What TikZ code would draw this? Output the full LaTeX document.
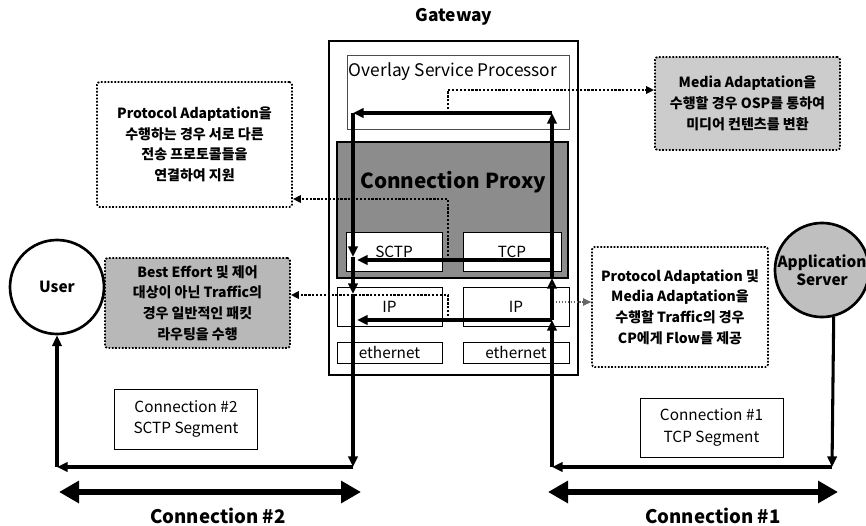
\documentclass[tikz,border=0pt]{standalone}
\usepackage{fontspec}
\setmainfont{Noto Sans CJK KR}
\usetikzlibrary{arrows.meta}

\begin{document}
\begin{tikzpicture}[x=0.75pt,y=-0.75pt,
  flow/.style={line width=2.3pt,-{Triangle[length=8pt,width=7pt]}},
  conn/.style={line width=4pt,{Triangle[length=15pt,width=16pt]}-{Triangle[length=15pt,width=16pt]}},
  note/.style={line width=1.7pt,dash pattern=on 1.7pt off 1.2pt,-{Triangle[length=6pt,width=5.5pt]}},
  notebox/.style={draw,line width=1.3pt,dash pattern=on 1.3pt off 1.2pt,rounded corners=2pt,align=center,inner sep=0pt,font=\fontsize{10.5}{15.5}\selectfont\bfseries},
  layer/.style={draw,fill=white,line width=0.6pt,inner sep=0pt,font=\fontsize{11.5}{12}\selectfont},
  seg/.style={draw,line width=0.6pt,inner sep=0pt,align=center,font=\fontsize{11.5}{16}\selectfont},
  host/.style={circle,draw,line width=2pt,inner sep=0pt,align=center,font=\fontsize{11.5}{13.5}\selectfont\bfseries}]

\def\px{0.75pt}% один пиксель исходника
\def\xl{353}% левая вертикаль
\def\xr{552}% правая вертикаль
\def\yb{467}% нижняя линия

\useasboundingbox (0,0) rectangle (866,525);

% шлюз
\node[font=\fontsize{13}{14}\selectfont\bfseries] (gwtitle) at (454,17) {Gateway};
\node[draw,line width=2.2pt,minimum width=249*\px,minimum height=334*\px] (gw) at (453.5,208) {};
\node[draw=black!70,line width=0.6pt,minimum width=222*\px,minimum height=74*\px] (osp) at (458,92) {};
\node[font=\fontsize{13}{14}\selectfont] (osptitle) at (453,72) {Overlay Service Processor};
\node[draw,fill=black!45,line width=2pt,minimum width=231*\px,minimum height=136*\px] (cp) at (452.5,210) {};
\node[font=\fontsize{15.5}{17}\selectfont\bfseries] (cptitle) at (453,182) {Connection Proxy};

\node[layer,minimum width=96*\px,minimum height=39*\px] (sctp) at (394,251.5) {SCTP};
\node[layer,minimum width=98*\px,minimum height=39*\px] (tcp) at (512,251.5) {TCP};
\node[layer,minimum width=105*\px,minimum height=39*\px] (ipl) at (389.5,306.5) {IP};% уровень IP
\node[layer,minimum width=106*\px,minimum height=39*\px] (ipr) at (516,306.5) {IP};
\node[layer,minimum width=105*\px,minimum height=21*\px] (ethl) at (389.5,352.5) {ethernet};
\node[layer,minimum width=106*\px,minimum height=21*\px] (ethr) at (516,352.5) {ethernet};

% узлы по краям
\node[host,minimum size=94*\px] (user) at (57,287) {User};
\node[host,fill=black!25,minimum size=85*\px] (app) at (822,270) {Application\\Server};

% пояснения
\node[notebox,minimum width=195*\px,minimum height=125*\px] (pa) at (194.5,144.5) {Protocol Adaptation을\\수행하는 경우 서로 다른\\전송 프로토콜들을\\연결하여 지원};
\node[notebox,fill=black!20,minimum width=185*\px,minimum height=93*\px] (ma) at (747.5,103.5) {Media Adaptation을\\수행할 경우 OSP를 통하여\\미디어 컨텐츠를 변환};
\node[notebox,fill=black!28,minimum width=185*\px,minimum height=90*\px] (be) at (197.5,303) {Best Effort 및 제어\\대상이 아닌 Traffic의\\경우 일반적인 패킷\\라우팅을 수행};
\node[notebox,minimum width=176*\px,minimum height=120*\px] (pm) at (680,307) {Protocol Adaptation 및\\Media Adaptation을\\수행할 Traffic의 경우\\CP에게 Flow를 제공};

\node[seg,minimum width=143*\px,minimum height=60*\px] (seg2) at (186,419) {Connection \#2\\SCTP Segment};
\node[seg,minimum width=143*\px,minimum height=59*\px] (seg1) at (711.5,427.5) {Connection \#1\\TCP Segment};

% точки изломов
\coordinate (ospR) at (\xr,113);
\coordinate (ospL) at (\xl,113);
\coordinate (cpB) at (\xr,278);
\coordinate (tcpR) at (\xr,260);
\coordinate (sctpL) at (\xl+4,260);
\coordinate (sctpD) at (\xl,257);
\coordinate (ipR) at (\xr,320);
\coordinate (ipL) at (\xl+4,320);
\coordinate (ipD) at (\xl,294);
\coordinate (gwBL) at (\xl,\yb);
\coordinate (gwBR) at (\xr,\yb);
\coordinate (userB) at (57,\yb);
\coordinate (appB) at (832,\yb);

% потоки
\draw[flow] (gwBR) -- (ipR);
\draw[flow,-{Triangle[length=8pt,width=7pt,fill=black!60]}] (ipR) -- (cpB);
\draw[flow] (cpB) -- (ospR);
\draw[flow] (ospR) -- (ospL);
\draw[flow] (tcpR) -- (sctpL);
\draw[flow] (ipR) -- (ipL);
\draw[flow] (ospL) -- (sctpD);
\draw[flow] (sctpD) -- (ipD);
\draw[flow] (ipD) -- (gwBL);
\draw[flow] (gwBL) -- (userB);
\draw[flow] (userB) -- (user);
\draw[flow] (app.-76) -- (appB);
\draw[flow] (appB) -- (gwBR);

% пунктирные стрелки к пояснениям
\coordinate (ospmid) at (448,113);
\coordinate (ospdot) at (448,90);
\coordinate (cpmid) at (448,260);
\coordinate (cpdot) at (448,199);
\coordinate (ipmid) at (448,320);
\coordinate (ipdot) at (448,295);
\coordinate (iprdot) at (556,302);
\draw[note] (ospmid) |- (ma.west |- ospdot);
\draw[note] (cpmid) |- (pa.east |- cpdot);
\draw[note] (ipmid) |- (be.east |- ipdot);
\draw[note,black!60,line width=1pt,dash pattern=on 1pt off 1.2pt] (iprdot) -- (pm.west |- iprdot);

% соединения
\coordinate (c2a) at (59,492);
\coordinate (c2b) at (361,492);
\coordinate (c1a) at (548,492);
\coordinate (c1b) at (838,492);
\draw[conn] (c2a) -- (c2b);
\draw[conn] (c1a) -- (c1b);
\node[font=\fontsize{14}{15}\selectfont\bfseries] (c2) at (218,516) {Connection \#2};
\node[font=\fontsize{14}{15}\selectfont\bfseries] (c1) at (713,516) {Connection \#1};

\end{tikzpicture}
\end{document}
